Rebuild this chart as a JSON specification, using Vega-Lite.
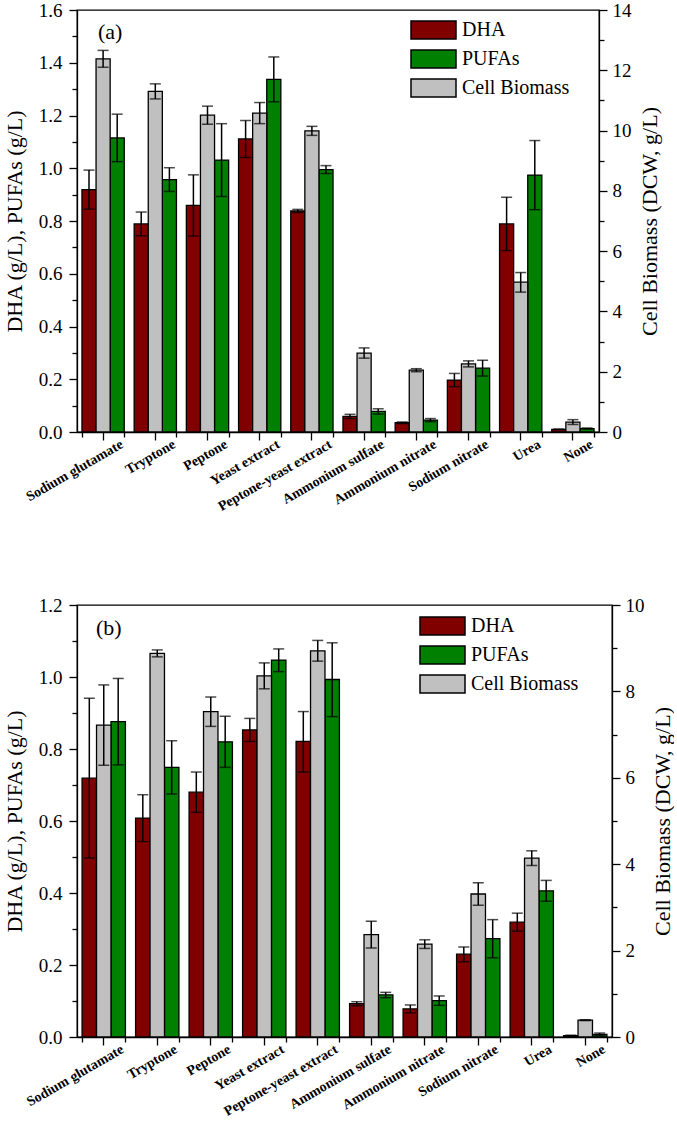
{
  "$schema": "https://vega.github.io/schema/vega-lite/v6.json",
  "background": "white",
  "padding": {"left": 2, "top": 0, "right": 0, "bottom": 0},
  "spacing": 80,
  "datasets": {
    "a": [
      {"source": "Sodium glutamate", "series": "DHA", "value": 0.919, "lo": 0.845, "hi": 0.993},
      {"source": "Sodium glutamate", "series": "Cell Biomass", "value": 12.38, "lo": 12.1, "hi": 12.66},
      {"source": "Sodium glutamate", "series": "PUFAs", "value": 1.115, "lo": 1.025, "hi": 1.205},
      {"source": "Tryptone", "series": "DHA", "value": 0.789, "lo": 0.744, "hi": 0.834},
      {"source": "Tryptone", "series": "Cell Biomass", "value": 11.3, "lo": 11.05, "hi": 11.55},
      {"source": "Tryptone", "series": "PUFAs", "value": 0.957, "lo": 0.912, "hi": 1.002},
      {"source": "Peptone", "series": "DHA", "value": 0.859, "lo": 0.743, "hi": 0.975},
      {"source": "Peptone", "series": "Cell Biomass", "value": 10.51, "lo": 10.21, "hi": 10.81},
      {"source": "Peptone", "series": "PUFAs", "value": 1.031, "lo": 0.893, "hi": 1.169},
      {"source": "Yeast extract", "series": "DHA", "value": 1.111, "lo": 1.041, "hi": 1.181},
      {"source": "Yeast extract", "series": "Cell Biomass", "value": 10.58, "lo": 10.23, "hi": 10.93},
      {"source": "Yeast extract", "series": "PUFAs", "value": 1.337, "lo": 1.252, "hi": 1.422},
      {"source": "Peptone-yeast extract", "series": "DHA", "value": 0.838, "lo": 0.832, "hi": 0.844},
      {"source": "Peptone-yeast extract", "series": "Cell Biomass", "value": 9.99, "lo": 9.84, "hi": 10.14},
      {"source": "Peptone-yeast extract", "series": "PUFAs", "value": 0.995, "lo": 0.98, "hi": 1.01},
      {"source": "Ammonium sulfate", "series": "DHA", "value": 0.059, "lo": 0.051, "hi": 0.067},
      {"source": "Ammonium sulfate", "series": "Cell Biomass", "value": 2.62, "lo": 2.45, "hi": 2.79},
      {"source": "Ammonium sulfate", "series": "PUFAs", "value": 0.078, "lo": 0.068, "hi": 0.088},
      {"source": "Ammonium nitrate", "series": "DHA", "value": 0.035, "lo": 0.032, "hi": 0.038},
      {"source": "Ammonium nitrate", "series": "Cell Biomass", "value": 2.05, "lo": 2.0, "hi": 2.1},
      {"source": "Ammonium nitrate", "series": "PUFAs", "value": 0.045, "lo": 0.039, "hi": 0.051},
      {"source": "Sodium nitrate", "series": "DHA", "value": 0.197, "lo": 0.172, "hi": 0.222},
      {"source": "Sodium nitrate", "series": "Cell Biomass", "value": 2.26, "lo": 2.16, "hi": 2.36},
      {"source": "Sodium nitrate", "series": "PUFAs", "value": 0.242, "lo": 0.212, "hi": 0.272},
      {"source": "Urea", "series": "DHA", "value": 0.789, "lo": 0.688, "hi": 0.89},
      {"source": "Urea", "series": "Cell Biomass", "value": 4.97, "lo": 4.64, "hi": 5.29},
      {"source": "Urea", "series": "PUFAs", "value": 0.974, "lo": 0.843, "hi": 1.105},
      {"source": "None", "series": "DHA", "value": 0.01, "lo": 0.009, "hi": 0.011},
      {"source": "None", "series": "Cell Biomass", "value": 0.33, "lo": 0.25, "hi": 0.41},
      {"source": "None", "series": "PUFAs", "value": 0.013, "lo": 0.011, "hi": 0.015}
    ],
    "b": [
      {"source": "Sodium glutamate", "series": "DHA", "value": 0.719, "lo": 0.497, "hi": 0.941},
      {"source": "Sodium glutamate", "series": "Cell Biomass", "value": 7.22, "lo": 6.29, "hi": 8.15},
      {"source": "Sodium glutamate", "series": "PUFAs", "value": 0.876, "lo": 0.756, "hi": 0.996},
      {"source": "Tryptone", "series": "DHA", "value": 0.608, "lo": 0.543, "hi": 0.673},
      {"source": "Tryptone", "series": "Cell Biomass", "value": 8.88, "lo": 8.8, "hi": 8.96},
      {"source": "Tryptone", "series": "PUFAs", "value": 0.749, "lo": 0.675, "hi": 0.823},
      {"source": "Peptone", "series": "DHA", "value": 0.68, "lo": 0.624, "hi": 0.736},
      {"source": "Peptone", "series": "Cell Biomass", "value": 7.53, "lo": 7.19, "hi": 7.87},
      {"source": "Peptone", "series": "PUFAs", "value": 0.82, "lo": 0.749, "hi": 0.891},
      {"source": "Yeast extract", "series": "DHA", "value": 0.853, "lo": 0.821, "hi": 0.885},
      {"source": "Yeast extract", "series": "Cell Biomass", "value": 8.36, "lo": 8.06, "hi": 8.66},
      {"source": "Yeast extract", "series": "PUFAs", "value": 1.047, "lo": 1.015, "hi": 1.078},
      {"source": "Peptone-yeast extract", "series": "DHA", "value": 0.821, "lo": 0.736, "hi": 0.904},
      {"source": "Peptone-yeast extract", "series": "Cell Biomass", "value": 8.94, "lo": 8.7, "hi": 9.18},
      {"source": "Peptone-yeast extract", "series": "PUFAs", "value": 0.993, "lo": 0.89, "hi": 1.095},
      {"source": "Ammonium sulfate", "series": "DHA", "value": 0.0925, "lo": 0.087, "hi": 0.098},
      {"source": "Ammonium sulfate", "series": "Cell Biomass", "value": 2.37, "lo": 2.06, "hi": 2.68},
      {"source": "Ammonium sulfate", "series": "PUFAs", "value": 0.117, "lo": 0.109, "hi": 0.124},
      {"source": "Ammonium nitrate", "series": "DHA", "value": 0.078, "lo": 0.067, "hi": 0.089},
      {"source": "Ammonium nitrate", "series": "Cell Biomass", "value": 2.15, "lo": 2.05, "hi": 2.25},
      {"source": "Ammonium nitrate", "series": "PUFAs", "value": 0.101, "lo": 0.088, "hi": 0.114},
      {"source": "Sodium nitrate", "series": "DHA", "value": 0.23, "lo": 0.209, "hi": 0.25},
      {"source": "Sodium nitrate", "series": "Cell Biomass", "value": 3.31, "lo": 3.05, "hi": 3.57},
      {"source": "Sodium nitrate", "series": "PUFAs", "value": 0.273, "lo": 0.22, "hi": 0.326},
      {"source": "Urea", "series": "DHA", "value": 0.319, "lo": 0.294, "hi": 0.344},
      {"source": "Urea", "series": "Cell Biomass", "value": 4.14, "lo": 3.97, "hi": 4.31},
      {"source": "Urea", "series": "PUFAs", "value": 0.406, "lo": 0.377, "hi": 0.435},
      {"source": "None", "series": "DHA", "value": 0.004, "lo": 0.003, "hi": 0.005},
      {"source": "None", "series": "Cell Biomass", "value": 0.39, "lo": 0.38, "hi": 0.4},
      {"source": "None", "series": "PUFAs", "value": 0.007, "lo": 0.003, "hi": 0.011}
    ]
  },
  "resolve": {
    "scale": {"color": "independent", "xOffset": "independent"},
    "legend": {"color": "independent"}
  },
  "vconcat": [
    {
      "width": 522,
      "height": 422,
      "title": {"text": "(a)", "anchor": "start", "frame": "group", "dx": 21, "offset": -43, "fontSize": 22, "fontWeight": "normal", "font": "Liberation Serif, Times New Roman, serif", "color": "black"},
      "data": {"name": "a"},
      "layer": [
        {
          "transform": [{"filter": "datum.series !== 'Cell Biomass'"}],
          "layer": [
            {
              "mark": {"type": "bar", "stroke": "black", "strokeWidth": 1.3},
              "encoding": {
                "x": {"field": "source", "type": "nominal", "sort": null,
                  "scale": {"domain": ["Sodium glutamate", "Tryptone", "Peptone", "Yeast extract", "Peptone-yeast extract", "Ammonium sulfate", "Ammonium nitrate", "Sodium nitrate", "Urea", "None"], "paddingInner": 0.19, "paddingOuter": 0.095},
                  "axis": {"orient": "bottom", "title": null, "tickSize": 8, "labelAngle": -30, "labelAlign": "right", "labelBaseline": "middle", "labelOffset": 19, "labelPadding": 3, "labelFontSize": 14, "labelFontWeight": "bold", "labelOverlap": false, "labelFlush": false}},
                "xOffset": {"field": "series", "type": "nominal", "scale": {"domain": ["DHA", "Cell Biomass", "PUFAs"], "paddingInner": 0, "paddingOuter": 0}},
                "y": {"field": "value", "type": "quantitative", "scale": {"domain": [0, 1.6], "nice": false},
                  "axis": {"orient": "left", "values": [0, 0.2, 0.4, 0.6, 0.8, 1.0, 1.2, 1.4, 1.6], "format": ".1f", "tickSize": 8, "labelPadding": 7, "labelFontSize": 19, "title": "DHA (g/L), PUFAs (g/L)", "titleFontSize": 22, "titlePadding": 12, "labelFlush": false, "labelOverlap": false}},
                "color": {"field": "series", "type": "nominal",
                  "scale": {"domain": ["DHA", "PUFAs", "Cell Biomass"], "range": ["#800000", "#008000", "#C0C0C0"]},
                  "legend": {"orient": "none", "legendX": 346.5, "legendY": 10, "title": null, "symbolType": "M-2.5,-1H2.5V1H-2.5Z", "symbolSize": 324, "symbolStrokeColor": "black", "symbolStrokeWidth": 1.5, "symbolOpacity": 1, "labelFontSize": 20, "labelColor": "black", "labelOffset": 18.5, "rowPadding": 5, "padding": 0}}
              }
            },
            {
              "mark": {"type": "rule", "color": "black", "strokeWidth": 1.5},
              "encoding": {
                "x": {"field": "source", "type": "nominal", "sort": null,
                  "axis": {"orient": "bottom", "title": null, "tickBand": "extent", "tickSize": 5, "labels": false, "domain": false}},
                "xOffset": {"field": "series", "type": "nominal"},
                "y": {"field": "lo", "type": "quantitative",
                  "axis": {"orient": "left", "values": [0.1, 0.3, 0.5, 0.7, 0.9, 1.1, 1.3, 1.5], "labels": false, "domain": false, "tickSize": 5, "title": null}},
                "y2": {"field": "hi"}
              }
            },
            {
              "mark": {"type": "tick", "color": "black", "thickness": 1.5, "size": 11},
              "encoding": {
                "x": {"field": "source", "type": "nominal", "sort": null, "axis": null},
                "xOffset": {"field": "series", "type": "nominal"},
                "y": {"field": "lo", "type": "quantitative", "axis": null}
              }
            },
            {
              "mark": {"type": "tick", "color": "black", "thickness": 1.5, "size": 11},
              "encoding": {
                "x": {"field": "source", "type": "nominal", "sort": null, "axis": null},
                "xOffset": {"field": "series", "type": "nominal"},
                "y": {"field": "hi", "type": "quantitative", "axis": null}
              }
            }
          ],
          "resolve": {"axis": {"x": "independent", "y": "independent"}}
        },
        {
          "transform": [{"filter": "datum.series === 'Cell Biomass'"}],
          "layer": [
            {
              "mark": {"type": "bar", "stroke": "black", "strokeWidth": 1.3},
              "encoding": {
                "x": {"field": "source", "type": "nominal", "sort": null, "axis": null},
                "xOffset": {"field": "series", "type": "nominal"},
                "y": {"field": "value", "type": "quantitative", "scale": {"domain": [0, 14], "nice": false},
                  "axis": {"orient": "right", "values": [0, 2, 4, 6, 8, 10, 12, 14], "format": "d", "tickSize": 8, "labelPadding": 5, "labelFontSize": 19, "title": "Cell Biomass (DCW, g/L)", "titleFontSize": 22, "titlePadding": 8, "titleAngle": -90, "titleBaseline": "top", "labelFlush": false, "labelOverlap": false}},
                "color": {"field": "series", "type": "nominal",
                  "legend": {"orient": "none", "legendX": 346.5, "legendY": 10, "title": null, "symbolType": "M-2.5,-1H2.5V1H-2.5Z", "symbolSize": 324, "symbolStrokeColor": "black", "symbolStrokeWidth": 1.5, "symbolOpacity": 1, "labelFontSize": 20, "labelColor": "black", "labelOffset": 18.5, "rowPadding": 5, "padding": 0}}
              }
            },
            {
              "mark": {"type": "rule", "color": "black", "strokeWidth": 1.5},
              "encoding": {
                "x": {"field": "source", "type": "nominal", "sort": null, "axis": null},
                "xOffset": {"field": "series", "type": "nominal"},
                "y": {"field": "lo", "type": "quantitative",
                  "axis": {"orient": "right", "values": [1, 3, 5, 7, 9, 11, 13], "labels": false, "domain": false, "tickSize": 5, "title": null}},
                "y2": {"field": "hi"}
              }
            },
            {
              "mark": {"type": "tick", "color": "black", "thickness": 1.5, "size": 11},
              "encoding": {
                "x": {"field": "source", "type": "nominal", "sort": null, "axis": null},
                "xOffset": {"field": "series", "type": "nominal"},
                "y": {"field": "lo", "type": "quantitative", "axis": null}
              }
            },
            {
              "mark": {"type": "tick", "color": "black", "thickness": 1.5, "size": 11},
              "encoding": {
                "x": {"field": "source", "type": "nominal", "sort": null, "axis": null},
                "xOffset": {"field": "series", "type": "nominal"},
                "y": {"field": "hi", "type": "quantitative", "axis": null}
              }
            }
          ],
          "resolve": {"axis": {"y": "independent"}}
        }
      ],
      "resolve": {"scale": {"y": "independent"}}
    },
    {
      "width": 535,
      "height": 432,
      "title": {"text": "(b)", "anchor": "start", "frame": "group", "dx": 19, "offset": -44, "fontSize": 22, "fontWeight": "normal", "font": "Liberation Serif, Times New Roman, serif", "color": "black"},
      "data": {"name": "b"},
      "layer": [
        {
          "transform": [{"filter": "datum.series !== 'Cell Biomass'"}],
          "layer": [
            {
              "mark": {"type": "bar", "stroke": "black", "strokeWidth": 1.3},
              "encoding": {
                "x": {"field": "source", "type": "nominal", "sort": null,
                  "scale": {"domain": ["Sodium glutamate", "Tryptone", "Peptone", "Yeast extract", "Peptone-yeast extract", "Ammonium sulfate", "Ammonium nitrate", "Sodium nitrate", "Urea", "None"], "paddingInner": 0.19, "paddingOuter": 0.095},
                  "axis": {"orient": "bottom", "title": null, "tickSize": 8, "labelAngle": -30, "labelAlign": "right", "labelBaseline": "middle", "labelOffset": 19, "labelPadding": 3, "labelFontSize": 14, "labelFontWeight": "bold", "labelOverlap": false, "labelFlush": false}},
                "xOffset": {"field": "series", "type": "nominal", "scale": {"domain": ["DHA", "Cell Biomass", "PUFAs"], "paddingInner": 0, "paddingOuter": 0}},
                "y": {"field": "value", "type": "quantitative", "scale": {"domain": [0, 1.2], "nice": false},
                  "axis": {"orient": "left", "values": [0, 0.2, 0.4, 0.6, 0.8, 1.0, 1.2], "format": ".1f", "tickSize": 8, "labelPadding": 7, "labelFontSize": 19, "title": "DHA (g/L), PUFAs (g/L)", "titleFontSize": 22, "titlePadding": 12, "labelFlush": false, "labelOverlap": false}},
                "color": {"field": "series", "type": "nominal",
                  "scale": {"domain": ["DHA", "PUFAs", "Cell Biomass"], "range": ["#800000", "#008000", "#C0C0C0"]},
                  "legend": {"orient": "none", "legendX": 355.5, "legendY": 11, "title": null, "symbolType": "M-2.5,-1H2.5V1H-2.5Z", "symbolSize": 324, "symbolStrokeColor": "black", "symbolStrokeWidth": 1.5, "symbolOpacity": 1, "labelFontSize": 20, "labelColor": "black", "labelOffset": 18.5, "rowPadding": 5, "padding": 0}}
              }
            },
            {
              "mark": {"type": "rule", "color": "black", "strokeWidth": 1.5},
              "encoding": {
                "x": {"field": "source", "type": "nominal", "sort": null,
                  "axis": {"orient": "bottom", "title": null, "tickBand": "extent", "tickSize": 5, "labels": false, "domain": false}},
                "xOffset": {"field": "series", "type": "nominal"},
                "y": {"field": "lo", "type": "quantitative",
                  "axis": {"orient": "left", "values": [0.1, 0.3, 0.5, 0.7, 0.9, 1.1], "labels": false, "domain": false, "tickSize": 5, "title": null}},
                "y2": {"field": "hi"}
              }
            },
            {
              "mark": {"type": "tick", "color": "black", "thickness": 1.5, "size": 11},
              "encoding": {
                "x": {"field": "source", "type": "nominal", "sort": null, "axis": null},
                "xOffset": {"field": "series", "type": "nominal"},
                "y": {"field": "lo", "type": "quantitative", "axis": null}
              }
            },
            {
              "mark": {"type": "tick", "color": "black", "thickness": 1.5, "size": 11},
              "encoding": {
                "x": {"field": "source", "type": "nominal", "sort": null, "axis": null},
                "xOffset": {"field": "series", "type": "nominal"},
                "y": {"field": "hi", "type": "quantitative", "axis": null}
              }
            }
          ],
          "resolve": {"axis": {"x": "independent", "y": "independent"}}
        },
        {
          "transform": [{"filter": "datum.series === 'Cell Biomass'"}],
          "layer": [
            {
              "mark": {"type": "bar", "stroke": "black", "strokeWidth": 1.3},
              "encoding": {
                "x": {"field": "source", "type": "nominal", "sort": null, "axis": null},
                "xOffset": {"field": "series", "type": "nominal"},
                "y": {"field": "value", "type": "quantitative", "scale": {"domain": [0, 10], "nice": false},
                  "axis": {"orient": "right", "values": [0, 2, 4, 6, 8, 10], "format": "d", "tickSize": 8, "labelPadding": 5, "labelFontSize": 19, "title": "Cell Biomass (DCW, g/L)", "titleFontSize": 22, "titlePadding": 8, "titleAngle": -90, "titleBaseline": "top", "labelFlush": false, "labelOverlap": false}},
                "color": {"field": "series", "type": "nominal",
                  "legend": {"orient": "none", "legendX": 355.5, "legendY": 11, "title": null, "symbolType": "M-2.5,-1H2.5V1H-2.5Z", "symbolSize": 324, "symbolStrokeColor": "black", "symbolStrokeWidth": 1.5, "symbolOpacity": 1, "labelFontSize": 20, "labelColor": "black", "labelOffset": 18.5, "rowPadding": 5, "padding": 0}}
              }
            },
            {
              "mark": {"type": "rule", "color": "black", "strokeWidth": 1.5},
              "encoding": {
                "x": {"field": "source", "type": "nominal", "sort": null, "axis": null},
                "xOffset": {"field": "series", "type": "nominal"},
                "y": {"field": "lo", "type": "quantitative",
                  "axis": {"orient": "right", "values": [1, 3, 5, 7, 9], "labels": false, "domain": false, "tickSize": 5, "title": null}},
                "y2": {"field": "hi"}
              }
            },
            {
              "mark": {"type": "tick", "color": "black", "thickness": 1.5, "size": 11},
              "encoding": {
                "x": {"field": "source", "type": "nominal", "sort": null, "axis": null},
                "xOffset": {"field": "series", "type": "nominal"},
                "y": {"field": "lo", "type": "quantitative", "axis": null}
              }
            },
            {
              "mark": {"type": "tick", "color": "black", "thickness": 1.5, "size": 11},
              "encoding": {
                "x": {"field": "source", "type": "nominal", "sort": null, "axis": null},
                "xOffset": {"field": "series", "type": "nominal"},
                "y": {"field": "hi", "type": "quantitative", "axis": null}
              }
            }
          ],
          "resolve": {"axis": {"y": "independent"}}
        }
      ],
      "resolve": {"scale": {"y": "independent"}}
    }
  ],
  "config": {
    "font": "Liberation Serif, Times New Roman, serif",
    "view": {"stroke": "black", "strokeWidth": 1.3},
    "axis": {"domainColor": "black", "domainWidth": 1.3, "tickColor": "black", "tickWidth": 1.3, "labelColor": "black", "titleColor": "black", "labelFont": "Liberation Serif, Times New Roman, serif", "titleFont": "Liberation Serif, Times New Roman, serif", "titleFontWeight": "normal", "grid": false},
    "legend": {"labelFont": "Liberation Serif, Times New Roman, serif"}
  }
}
